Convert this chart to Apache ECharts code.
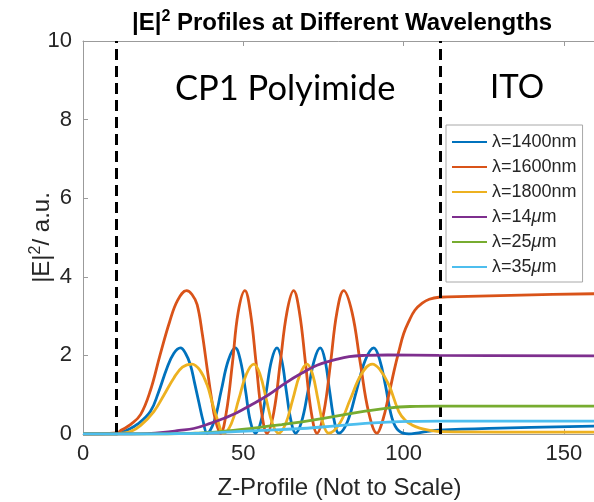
<!DOCTYPE html>
<html>
<head>
<meta charset="utf-8">
<script src="https://cdn.jsdelivr.net/npm/echarts/dist/echarts.min.js"></script>
<style>html,body{margin:0;padding:0;background:#fff}#c{width:594px;height:502px}</style>
</head>
<body>
<div id="c"></div>
<script>
// ---- data ----
const seriesNames = ['λ=1400nm', 'λ=1600nm', 'λ=1800nm', 'λ=14μm', 'λ=25μm', 'λ=35μm'];
const seriesColors = ['#0072BD', '#D95319', '#EDB120', '#7E2F8E', '#77AC30', '#4DBEEE'];
const xTicks = [0, 50, 100, 150];
const yTicks = [0, 2, 4, 6, 8, 10];
const interfaceX = [10.5, 111.5];
const regionLabels = ['CP1 Polyimide', 'ITO'];

const wl1400 = [[0,0],[10.5,0],[12,0.04],[13.8,0.1],[17,0.25],[21,0.57],[23.5,1.05],[26.2,1.68],[28.3,2.05],[30.4,2.19],[32,2.05],[33.5,1.76],[34.8,1.3],[36.1,0.82],[37.4,0.35],[38.7,0.02],[40.9,0.32],[43.1,1.1],[45.3,1.87],[47.5,2.19],[49.1,1.87],[50.7,1.1],[52.2,0.32],[53.8,0.02],[55.5,0.32],[57.2,1.1],[58.8,1.87],[60.5,2.19],[62,1.87],[63.4,1.1],[64.9,0.32],[66.3,0.02],[68.2,0.32],[70.2,1.1],[72.1,1.87],[74,2.19],[75.5,1.87],[76.9,1.1],[78.4,0.32],[79.8,0.02],[82.5,0.32],[85.3,1.1],[88,1.87],[90.7,2.19],[92.5,1.9],[94.3,1.25],[96.4,0.4],[98.5,0.08],[101.6,0],[104,0.02],[107,0.06],[111,0.1],[130,0.15],[160,0.2]];
const wl1600 = [[0,0],[10.5,0.03],[12,0.1],[15,0.25],[18,0.5],[21,1.1],[24,2.0],[27,2.85],[29.5,3.4],[32.3,3.65],[34,3.55],[35.6,3.29],[37.2,2.55],[38.7,1.68],[40,0.95],[41.3,0.35],[42.9,0.02],[44.7,0.55],[46.6,1.8],[48.4,3.1],[50.5,3.65],[52.2,3.1],[54,1.8],[55.7,0.55],[57.4,0.02],[59.5,0.55],[61.5,1.8],[63.6,3.1],[65.7,3.65],[67.5,3.1],[69.4,1.8],[71.2,0.55],[73,0.02],[75.1,0.55],[77.2,1.8],[79.2,3.1],[81.3,3.65],[83.9,3.1],[86.5,1.8],[89.1,0.55],[91.7,0.02],[93.5,0.35],[95.4,1.0],[97,1.6],[98.5,2.1],[100,2.55],[101.6,2.86],[103.5,3.15],[105.8,3.33],[108,3.43],[111,3.48],[120,3.5],[140,3.54],[160,3.57]];
const wl1800 = [[0,0],[10.5,0],[12,0.02],[14.8,0.06],[18,0.22],[22.1,0.57],[25.3,1.0],[28.3,1.42],[31,1.7],[34,1.78],[36.5,1.62],[38.7,1.25],[40.3,0.8],[41.8,0.4],[43.9,0.02],[46.25,0.26],[48.6,0.89],[50.95,1.52],[53.3,1.78],[55.2,1.52],[57.15,0.89],[59.1,0.26],[61,0.02],[63.2,0.26],[65.45,0.89],[67.7,1.52],[69.9,1.78],[71.6,1.52],[73.25,0.89],[74.9,0.26],[76.6,0.02],[80,0.26],[83.4,0.89],[86.8,1.52],[90.2,1.78],[92.5,1.65],[95.4,1.25],[98.5,0.57],[100.5,0.35],[102.6,0.23],[105,0.15],[107.8,0.1],[112,0.06],[130,0.05],[160,0.05]];
const wl14um = [[0,0],[15,0],[20,0.01],[25,0.04],[30,0.09],[34.5,0.14],[39.7,0.27],[44,0.4],[47.5,0.52],[52,0.72],[57.9,1.0],[63,1.29],[68.3,1.55],[73,1.75],[78.7,1.89],[83,1.97],[88,2.0],[95,2.01],[111,2.0],[160,1.99]];
const wl25um = [[0,0],[25,0],[30,0.01],[35,0.02],[40,0.04],[47.5,0.1],[55,0.17],[62,0.24],[68.3,0.31],[75,0.4],[82,0.5],[88,0.58],[95,0.66],[102,0.7],[111,0.71],[160,0.71]];
const wl35um = [[0,0],[20,0],[30,0.01],[40,0.03],[47.5,0.06],[58,0.1],[68.3,0.14],[78,0.2],[88,0.27],[95,0.3],[102,0.32],[111,0.33],[160,0.33]];

// ---- chart ----
const FONT = '"Liberation Sans", Arial, Helvetica, sans-serif';
const axisGray = '#9b9b9b';
const textDark = '#262626';
const dataSets = [wl1400, wl1600, wl1800, wl14um, wl25um, wl35um];

const chart = echarts.init(document.getElementById('c'), null, {renderer: 'canvas'});

const series = dataSets.map((d, i) => ({
  name: seriesNames[i],
  type: 'line',
  data: d,
  smooth: 0.4,
  symbol: 'none',
  showSymbol: false,
  lineStyle: {color: seriesColors[i], width: 2.8},
  itemStyle: {color: seriesColors[i]},
  emphasis: {disabled: true},
  z: 2 + i
}));
series.push({
  type: 'line',
  data: [],
  silent: true,
  z: 20,
  markLine: {
    symbol: ['none', 'none'],
    silent: true,
    animation: false,
    label: {show: false},
    emphasis: {disabled: true},
    lineStyle: {color: '#000', width: 3, type: [11, 6]},
    data: interfaceX.map(v => ({xAxis: v}))
  }
});

const tickLabelStyle = {color: textDark, fontFamily: FONT, fontSize: 22};
const axisCommon = {
  axisLine: {show: true, lineStyle: {color: axisGray, width: 1}},
  axisTick: {show: true, inside: true, length: 5, lineStyle: {color: axisGray, width: 1}},
  splitLine: {show: false}
};

chart.setOption({
  animation: false,
  backgroundColor: '#fff',
  title: {
    text: '|E|{sup|2} Profiles at Different Wavelengths',
    left: 127, top: 4,
    textStyle: {
      fontFamily: FONT, fontSize: 24, fontWeight: 'bold', color: '#000', lineHeight: 28,
      rich: {sup: {fontFamily: FONT, fontSize: 16, fontWeight: 'bold', color: '#000', verticalAlign: 'top', lineHeight: 16}}
    }
  },
  grid: {left: 83, top: 41, width: 513, height: 393, containLabel: false, outerBoundsMode: 'none'},
  xAxis: [
    Object.assign({
      type: 'value', min: xTicks[0], max: 160, interval: 50, position: 'bottom',
      axisLabel: Object.assign({show: true, margin: 9, showMaxLabel: false}, tickLabelStyle),
      name: 'Z-Profile (Not to Scale)', nameLocation: 'middle', nameGap: 42, nameMoveOverlap: false,
      nameTextStyle: {color: textDark, fontFamily: FONT, fontSize: 24}
    }, axisCommon),
    Object.assign({
      type: 'value', min: xTicks[0], max: 160, interval: 50, position: 'top',
      axisLabel: {show: false}
    }, axisCommon)
  ],
  yAxis: [
    Object.assign({
      type: 'value', min: yTicks[0], max: yTicks[yTicks.length - 1], interval: 2,
      axisLabel: Object.assign({show: true, margin: 11}, tickLabelStyle),
      name: '|E|{sup|2}/ a.u.', nameLocation: 'middle', nameGap: 27, nameRotate: 90, nameMoveOverlap: false,
      nameTextStyle: {
        color: textDark, fontFamily: FONT, fontSize: 24, lineHeight: 28,
        rich: {sup: {color: textDark, fontFamily: FONT, fontSize: 16, verticalAlign: 'top', lineHeight: 16}}
      }
    }, axisCommon)
  ],
  legend: {
    data: seriesNames,
    orient: 'vertical',
    left: 446, top: 125,
    padding: [8, 6, 6, 5],
    itemGap: 7, itemWidth: 35, itemHeight: 18,
    backgroundColor: '#fff', borderColor: '#a8a8a8', borderWidth: 1, borderRadius: 0,
    selectedMode: false,
    itemStyle: {opacity: 0},
    textStyle: {
      fontFamily: FONT, fontSize: 18, color: textDark, lineHeight: 18,
      rich: {i: {fontFamily: FONT, fontSize: 18, fontStyle: 'italic', color: textDark, lineHeight: 18}}
    },
    formatter: n => n.replace('μ', '{i|μ}')
  },
  graphic: [
    {type: 'text', left: 175, top: 71, silent: true, z: 30,
     style: {text: regionLabels[0], fontFamily: 'Lato, "Open Sans", sans-serif', fontSize: 34.5, fill: '#000'}},
    {type: 'text', left: 490, top: 71, silent: true, z: 30,
     style: {text: regionLabels[1], fontFamily: 'Lato, "Open Sans", sans-serif', fontSize: 33, fill: '#000'}}
  ],
  series: series
});
</script>
</body>
</html>
